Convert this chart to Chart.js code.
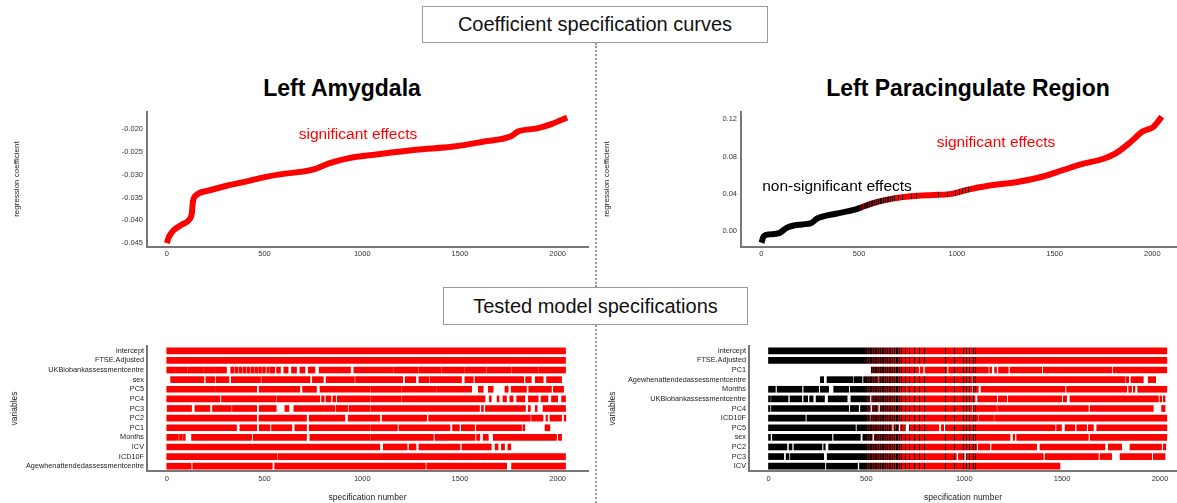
<!DOCTYPE html>
<html>
<head>
<meta charset="utf-8">
<script src="https://cdn.jsdelivr.net/npm/chart.js@4.4.1/dist/chart.umd.min.js"></script>
<style>
  body { margin: 0; background: #fff; width: 1177px; height: 503px; overflow: hidden; position: relative;
         font-family: "Liberation Sans", Arial, sans-serif; }
  canvas { position: absolute; }
  .box { position: absolute; border: 1px solid #9a9a9a; box-sizing: border-box; background: #fff;
         font-size: 20px; color: #111; text-align: center; white-space: nowrap; }
  .title { position: absolute; font-weight: bold; font-size: 23px; color: #000; line-height: 1;
           transform: translate(-50%, -50%); white-space: nowrap; }
  .note { position: absolute; font-size: 15.5px; line-height: 1; white-space: nowrap; transform: translate(-50%, -50%); }
  .divider { position: absolute; left: 595px; width: 0; border-left: 2px dotted #9a9a9a; }
</style>
</head>
<body>

<div class="divider" style="top:43px;height:244px;"></div>
<div class="divider" style="top:325px;height:178px;"></div>

<div class="box" style="left:422px;top:6px;width:346px;height:37px;line-height:35px;">Coefficient specification curves</div>
<div class="box" style="left:443px;top:287px;width:305px;height:38px;line-height:36px;">Tested model specifications</div>

<div class="title" style="left:342px;top:88px;">Left Amygdala</div>
<div class="title" style="left:968px;top:88px;">Left Paracingulate Region</div>

<canvas id="amygCurve" width="590" height="170" style="left:0;top:100px;"></canvas>
<canvas id="paraCurve" width="587" height="170" style="left:590px;top:100px;"></canvas>
<canvas id="amygSpecs" width="590" height="168" style="left:0;top:335px;"></canvas>
<canvas id="paraSpecs" width="587" height="168" style="left:590px;top:335px;"></canvas>

<div class="note" style="left:358px;top:134px;color:#ff0000;">significant effects</div>
<div class="note" style="left:996px;top:142px;color:#ff0000;">significant effects</div>
<div class="note" style="left:837px;top:186px;color:#000;">non-significant effects</div>

<script>
// ---- data ----
var specTicks = [0, 500, 1000, 1500, 2000];
var amygTicks = [-0.045, -0.040, -0.035, -0.030, -0.025, -0.020];
var paraTicks = [0.00, 0.04, 0.08, 0.12];

// coefficient curves (specification number, regression coefficient)
var amygSpec = [1, 8, 17, 37, 75, 114, 128, 134, 153, 211, 307, 404, 501, 598, 694, 752, 830, 927, 1081, 1275, 1468, 1623, 1758, 1797, 1894, 1971, 2048];
var amygCoef = [-0.0450, -0.0440, -0.0432, -0.0421, -0.0410, -0.0399, -0.0385, -0.0359, -0.0344, -0.0335, -0.0324, -0.0315, -0.0305, -0.0298, -0.0293, -0.0288, -0.0275, -0.0264, -0.0255, -0.0245, -0.0238, -0.0227, -0.0216, -0.0205, -0.0198, -0.0188, -0.0174];

var paraSpec = [1, 12, 40, 91, 130, 207, 255, 284, 381, 478, 516, 594, 671, 768, 880, 961, 1058, 1155, 1309, 1445, 1541, 1638, 1754, 1812, 1890, 1948, 2006, 2048];
var paraCoef = [-0.0125, -0.0055, -0.0035, -0.0022, 0.0036, 0.0072, 0.0086, 0.0133, 0.0187, 0.0230, 0.0259, 0.0313, 0.0349, 0.0374, 0.0388, 0.0397, 0.0446, 0.0485, 0.0528, 0.0589, 0.0654, 0.0719, 0.0780, 0.0834, 0.0959, 0.1067, 0.1121, 0.1229];

// significance along the paracingulate specifications
var paraNonSigEnd = 503;
var paraMixEnd = 690;
var paraDarkLines = [512, 520, 528, 537, 545, 553, 562, 570, 580, 590, 598, 607, 616, 625, 634, 643, 652, 661, 670, 680,
                     700, 722, 745, 770, 795, 905, 950, 995, 1012, 1029, 1045, 1058];

// tested specifications: [first, last] runs per variable
var amygVars = ["intercept", "FTSE.Adjusted", "UKBiobankassessmentcentre", "sex", "PC5", "PC4", "PC3", "PC2", "PC1", "Months", "ICV", "ICD10F", "Agewhenattendedassessmentcentre"];
var amygRows = [
  [[0, 2040]],
  [[0, 2040]],
  [[0, 40], [43, 105], [108, 185], [188, 250], [253, 306], [327, 345], [350, 365], [370, 385], [390, 405], [410, 425], [430, 445], [450, 465], [470, 485], [490, 505], [512, 525], [530, 553], [562, 582], [599, 621], [638, 664], [681, 707], [724, 758], [780, 940], [957, 1157], [1161, 1285], [1289, 1404], [1408, 1523], [1527, 1634], [1638, 1762], [1766, 1898], [1902, 2040]],
  [[20, 190], [200, 245], [252, 318], [330, 480], [486, 733], [745, 801], [815, 960], [966, 1207], [1220, 1274], [1290, 1340], [1346, 1508], [1525, 1568], [1577, 1826], [1836, 1865], [1885, 1926], [1943, 2020]],
  [[0, 245], [249, 460], [473, 681], [695, 766], [784, 1039], [1043, 1200], [1204, 1380], [1384, 1560], [1594, 1619], [1645, 1670], [1730, 1747], [1762, 1840], [1852, 1968], [1978, 2030]],
  [[0, 272], [280, 560], [565, 783], [792, 805], [814, 840], [850, 864], [872, 1040], [1044, 1200], [1205, 1628], [1650, 1660], [1690, 1700], [1720, 1738], [1755, 1772], [1790, 1832], [1850, 1900], [1915, 1950], [1968, 2000], [2020, 2040]],
  [[2, 127], [144, 221], [234, 330], [336, 460], [473, 560], [604, 625], [650, 860], [866, 925], [932, 1040], [1044, 1600], [1610, 1620], [1630, 1835], [1850, 1860], [1885, 1895], [1925, 2040]],
  [[0, 460], [472, 715], [729, 911], [928, 1090], [1102, 1330], [1340, 1860], [1866, 1925], [1940, 1948], [1960, 2020], [2033, 2042]],
  [[0, 357], [374, 460], [473, 528], [536, 640], [655, 715], [729, 1039], [1043, 1180], [1188, 1449], [1462, 1497], [1507, 1575], [1584, 1815], [1822, 1832], [1935, 1960]],
  [[0, 60], [65, 80], [85, 95], [127, 434], [442, 715], [732, 1039], [1043, 1364], [1372, 1577], [1585, 1602], [1619, 1645], [1670, 1994], [2003, 2020]],
  [[0, 1090], [1108, 1230], [1240, 1275], [1290, 1500], [1510, 1660], [1680, 1695], [1712, 1728], [1745, 1760]],
  [[0, 565], [570, 2040]],
  [[0, 125], [133, 540], [552, 1323], [1330, 1739], [1764, 2040]]
];

var paraVars = ["intercept", "FTSE.Adjusted", "PC1", "Agewhenattendedassessmentcentre", "Months", "UKBiobankassessmentcentre", "PC4", "ICD10F", "PC5", "sex", "PC2", "PC3", "ICV"];
var paraRows = [
  [[0, 2035]],
  [[0, 2035]],
  [[525, 767], [775, 790], [800, 912], [920, 1123], [1130, 1140], [1155, 1165], [1175, 1225], [1234, 1396], [1404, 1753], [1760, 2035]],
  [[265, 282], [299, 430], [436, 478], [486, 560], [565, 1040], [1044, 1821], [1826, 1840], [1852, 1915], [1940, 1978]],
  [[0, 35], [44, 171], [180, 256], [265, 307], [333, 410], [418, 700], [705, 1040], [1045, 1072], [1086, 1515], [1523, 1830], [1840, 1855], [1864, 1872], [1886, 2035]],
  [[0, 10], [15, 100], [110, 170], [180, 200], [210, 228], [243, 286], [305, 402], [421, 518], [527, 1055], [1068, 1166], [1174, 1217], [1225, 1498], [1506, 1523], [1540, 1992], [2000, 2009], [2017, 2026]],
  [[0, 8], [15, 410], [418, 460], [470, 520], [530, 560], [570, 1040], [1045, 1165], [1170, 1634], [1643, 1966], [2008, 2026]],
  [[0, 188], [196, 520], [525, 1070], [1075, 1150], [1155, 2035]],
  [[0, 444], [452, 631], [640, 665], [674, 699], [720, 870], [883, 895], [905, 1464], [1472, 1497], [1515, 1565], [1575, 1625], [1634, 1660], [1677, 2035]],
  [[0, 10], [20, 324], [333, 469], [482, 530], [540, 1234], [1250, 1258], [1268, 1634], [1643, 2035]],
  [[0, 94], [105, 120], [130, 273], [282, 290], [307, 1064], [1072, 1131], [1140, 1370], [1387, 1719], [1736, 1804], [1847, 2008], [2017, 2030]],
  [[0, 78], [90, 105], [112, 282], [300, 960], [970, 1000], [1010, 1404], [1413, 1685], [1694, 1753], [1796, 1958], [1966, 2026]],
  [[0, 288], [296, 455], [465, 1489]]
];

var maxSpec = 2048;

// ---- helpers ----
Chart.defaults.font.family = '"Liberation Sans", Arial, sans-serif';
Chart.defaults.color = "#222";

var AXIS_COLOR = "#777";
var RED = "#ff0000";

function fixedTicks(values) {
  return function (scale) {
    scale.ticks = values.map(function (v) { return { value: v }; });
  };
}

function sigColorAt(v) {
  for (var i = 0; i < paraDarkLines.length; i++) {
    if (Math.abs(v - paraDarkLines[i]) <= 2.5) return "#140000";
  }
  if (v < paraNonSigEnd) return "#000000";
  if (v < paraMixEnd) {
    var t = (v - paraNonSigEnd) / (paraMixEnd - paraNonSigEnd);
    return "rgb(" + Math.round(120 + t * 120) + ",0,0)";
  }
  return RED;
}

function sigGradient(chart) {
  if (!chart.chartArea) return "#000";
  var xs = chart.scales.x;
  var key = xs.left + ":" + xs.right;
  if (chart.$sigGrad && chart.$sigKey === key) return chart.$sigGrad;
  var x0 = xs.getPixelForValue(0), x1 = xs.getPixelForValue(maxSpec);
  var g = chart.ctx.createLinearGradient(x0, 0, x1, 0);
  var pts = [0, paraNonSigEnd, paraMixEnd, maxSpec];
  paraDarkLines.forEach(function (s) { pts.push(s - 2.5, s + 2.5); });
  pts.sort(function (a, b) { return a - b; });
  for (var i = 0; i < pts.length - 1; i++) {
    var a = pts[i], b = pts[i + 1];
    if (b <= a) continue;
    g.addColorStop(a / maxSpec, sigColorAt(a + 0.01));
    g.addColorStop(b / maxSpec, sigColorAt(b - 0.01));
  }
  chart.$sigGrad = g;
  chart.$sigKey = key;
  return g;
}

function specAxis(min, max, height, withTitle) {
  return {
    type: "linear",
    min: min,
    max: max,
    grid: { display: false, drawTicks: false },
    border: { display: true, color: AXIS_COLOR, width: 2 },
    ticks: { font: { size: 7.5 }, color: "#333", padding: 3, maxRotation: 0, autoSkip: false,
             callback: function (v) { return String(v); } },
    title: withTitle ? { display: true, text: "specification number", font: { size: 8.5 }, color: "#222",
                         padding: { top: 0, bottom: 0 } } : { display: false },
    afterBuildTicks: fixedTicks(specTicks),
    afterFit: function (s) { s.height = height; }
  };
}

function curveChart(id, spec, coef, color, xMin, xMax, yMin, yMax, yTicks, digits, yWidth, rightPad) {
  return new Chart(document.getElementById(id), {
    type: "line",
    data: {
      datasets: [{
        data: spec.map(function (s, i) { return { x: s, y: coef[i] }; }),
        borderColor: color,
        borderWidth: 6,
        borderCapStyle: "butt",
        pointRadius: 0,
        cubicInterpolationMode: "monotone",
        fill: false
      }]
    },
    options: {
      responsive: false,
      animation: false,
      layout: { padding: { top: 11.7, right: rightPad, left: 0, bottom: 0 } },
      plugins: { legend: { display: false }, tooltip: { enabled: false } },
      scales: {
        x: specAxis(xMin, xMax, 23.5, false),
        y: {
          type: "linear",
          min: yMin,
          max: yMax,
          grid: { display: false, drawTicks: false },
          border: { display: true, color: AXIS_COLOR, width: 2 },
          ticks: { font: { size: 7.5 }, color: "#333", padding: 4, autoSkip: false,
                   callback: function (v) { return v.toFixed(digits); } },
          title: { display: true, text: "regression coefficient", font: { size: 8 }, color: "#222",
                   padding: { top: 12, bottom: 0 } },
          afterBuildTicks: fixedTicks(yTicks),
          afterFit: function (s) { s.width = yWidth; }
        }
      }
    }
  });
}

function rowDatasets(rows, color) {
  var maxSeg = 0;
  rows.forEach(function (r) { if (r.length > maxSeg) maxSeg = r.length; });
  var sets = [];
  for (var k = 0; k < maxSeg; k++) {
    sets.push({
      data: rows.map(function (r) { return r[k] || null; }),
      backgroundColor: color,
      borderWidth: 0,
      borderSkipped: false,
      grouped: false,
      barThickness: 6
    });
  }
  return sets;
}

function specsChart(id, vars, rows, color, xMin, xMax, yWidth, rightPad, titlePad) {
  return new Chart(document.getElementById(id), {
    type: "bar",
    data: { labels: vars, datasets: rowDatasets(rows, color) },
    options: {
      indexAxis: "y",
      responsive: false,
      animation: false,
      layout: { padding: { top: 11, right: rightPad, left: 0, bottom: 0 } },
      plugins: { legend: { display: false }, tooltip: { enabled: false } },
      scales: {
        x: specAxis(xMin, xMax, 32, true),
        y: {
          type: "category",
          grid: { display: false, drawTicks: false },
          border: { display: true, color: AXIS_COLOR, width: 2 },
          ticks: { font: { size: 7.3 }, color: "#222", padding: 3, autoSkip: false },
          title: { display: true, text: "variables", font: { size: 8.5 }, color: "#222",
                   padding: { top: titlePad, bottom: 0 } },
          afterFit: function (s) { s.width = yWidth; }
        }
      }
    }
  });
}

// ---- charts ----
curveChart("amygCurve", amygSpec, amygCoef, RED, -101, 2155, -0.04575, -0.01614, amygTicks, 3, 147, 2);
curveChart("paraCurve", paraSpec, paraCoef, function (c) { return sigGradient(c.chart); },
           -104, 2126, -0.0165, 0.1282, paraTicks, 2, 151, 0);

specsChart("amygSpecs", amygVars, amygRows, RED, -101, 2155, 147, 2, 9.3);
specsChart("paraSpecs", paraVars, paraRows, function (c) { return sigGradient(c.chart); },
           -99.6, 2087, 159, 0, 17.6);
</script>
</body>
</html>
